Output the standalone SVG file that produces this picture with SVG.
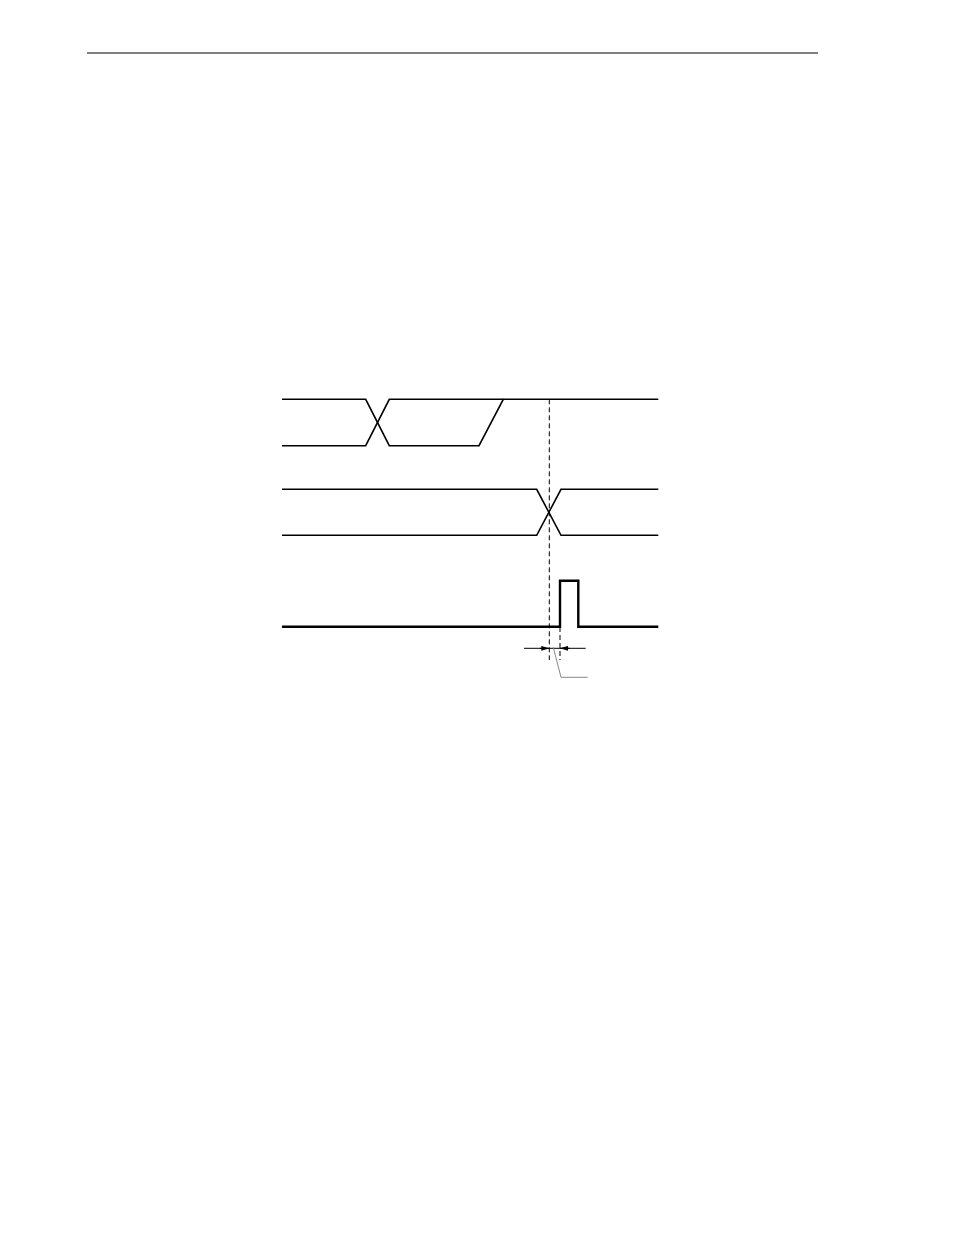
<svg xmlns="http://www.w3.org/2000/svg" width="954" height="1235" viewBox="0 0 954 1235">
<style>
.sig{fill:none;stroke:#000;stroke-width:1.6;stroke-linejoin:miter}
.pulse{fill:none;stroke:#000;stroke-width:2.4}
.dash{fill:none;stroke:#000;stroke-width:1;stroke-dasharray:5,3}
.dim{fill:none;stroke:#000;stroke-width:1}
.lead{fill:none;stroke:#888;stroke-width:1}
</style>
<defs>
<marker id="ah" viewBox="0 0 10 6" refX="10" refY="3" markerWidth="8" markerHeight="5" markerUnits="userSpaceOnUse" orient="auto">
<path d="M0,0 L10,3 L0,6 z" fill="#000"/>
</marker>
</defs>
<rect width="954" height="1235" fill="#fff"/>
<line x1="87" y1="53" x2="818" y2="53" stroke="#000" stroke-width="1.2"/>
<g id="signal1">
<polyline class="sig" points="282,399.3 365.7,399.3 389.3,445.7 479,445.7 503.3,399.3 658.3,399.3"/>
<polyline class="sig" points="282,445.7 365.7,445.7 389.3,399.3 503.3,399.3"/>
</g>
<g id="signal2">
<polyline class="sig" points="282,489.3 536.7,489.3 561,535.3 658.3,535.3"/>
<polyline class="sig" points="282,535.3 536.7,535.3 561,489.3 658.3,489.3"/>
</g>
<g id="signal3">
<polyline class="pulse" points="282,626.7 560,626.7 560,580.7 578.3,580.7 578.3,626.7 658.3,626.7"/>
</g>
<g id="connectors">
<line class="dash" x1="549.3" y1="399.3" x2="549.3" y2="660"/>
<line class="dash" x1="560" y1="627" x2="560" y2="660"/>
<line class="dim" x1="524" y1="648.3" x2="585.7" y2="648.3"/>
<line class="dim" x1="540" y1="648.3" x2="549.3" y2="648.3" marker-end="url(#ah)"/>
<line class="dim" x1="570" y1="648.3" x2="560" y2="648.3" marker-end="url(#ah)"/>
<polyline class="lead" points="553.3,647.3 561,677.3 587.7,677.3"/>
</g>
</svg>
